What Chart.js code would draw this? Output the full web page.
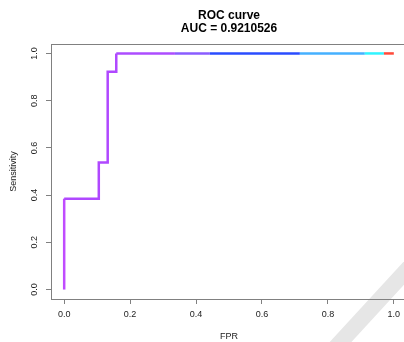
<!DOCTYPE html>
<html>
<head>
<meta charset="utf-8">
<script src="https://cdn.jsdelivr.net/npm/chart.js@4.4.0/dist/chart.umd.min.js"></script>
<style>
    html, body { margin: 0; padding: 0; background: #fff; overflow: hidden; }
    #wrap { position: relative; width: 404px; height: 342px; overflow: hidden; }
    #box { position: absolute; left: 0; top: 0; width: 410px; height: 342px; }
    #stripe {
        position: absolute; left: 362px; top: 190px; width: 16px; height: 240px;
        background: #e6e6e6; transform: rotate(42.6deg);
    }
</style>
</head>
<body>
<div id="wrap">
    <div id="stripe"></div>
    <div id="box"><canvas id="chartCanvasId"></canvas></div>
</div>
<script>
"use strict";

const fpr = [0, 0, 0.105, 0.105, 0.132, 0.132, 0.158, 0.158, 0.336, 0.442, 0.715, 0.912, 0.970, 1.0];
const tpr = [0, 0.385, 0.385, 0.538, 0.538, 0.923, 0.923, 1, 1, 1, 1, 1, 1, 1];
const segColors = [
    "#c04cff", "#b048ff", "#b048ff", "#b048ff", "#b048ff", "#b048ff", "#b048ff",
    "#ad4cff", "#8a5cff", "#2a4cff", "#45b0ff", "#30f4ff", "#ff4a3a"
];
const tickValues = [0, 0.2, 0.4, 0.6, 0.8, 1.0];
const titleLines = ["ROC curve", "AUC = 0.9210526"];

const points = fpr.map((x, i) => ({ x: x, y: tpr[i] }));

const boxPlugin = {
    id: "plotBox",
    beforeDatasetsDraw(chart) {
        const a = chart.chartArea;
        const ctx = chart.ctx;
        ctx.save();
        ctx.strokeStyle = "#808080";
        ctx.lineWidth = 1;
        ctx.strokeRect(a.left + 0.5, a.top + 0.5, a.right - a.left, a.bottom - a.top);
        ctx.restore();
    }
};

function axisOpts(title, isY) {
    return {
        type: "linear",
        min: -0.04,
        max: 1.04,
        afterBuildTicks(scale) {
            scale.ticks = tickValues.map(v => ({ value: v }));
        },
        afterFit(scale) {
            if (isY) scale.width = 51;
            else scale.height = 43;
        },
        grid: { drawOnChartArea: false, drawTicks: true, tickLength: 5, color: "#808080" },
        border: { display: true, color: "#808080" },
        ticks: {
            color: "#222",
            font: { family: "Liberation Sans, Arial", size: 9 },
            padding: isY ? 5 : 5,
            minRotation: isY ? 90 : 0,
            maxRotation: isY ? 90 : 0,
            crossAlign: isY ? "center" : "near",
            callback: v => Number(v).toFixed(1),
        },
        title: {
            display: true,
            text: title,
            color: "#222",
            font: { family: "Liberation Sans, Arial", size: 9 },
            padding: isY ? 8 : 0,
        },
    };
}

const chartCanvas = document.getElementById("chartCanvasId");
new Chart(chartCanvas.getContext("2d"), {
    type: "line",
    data: {
        datasets: [{
            data: points,
            borderWidth: 2.5,
            borderColor: segColors[0],
            pointRadius: 0,
            tension: 0,
            fill: false,
            segment: {
                borderColor: c => segColors[c.p0DataIndex],
            },
        }],
    },
    options: {
        responsive: true,
        maintainAspectRatio: false,
        animation: false,
        layout: { padding: { right: 3 } },
        plugins: {
            legend: { display: false },
            tooltip: { enabled: false },
            title: {
                display: true,
                fullSize: false,
                text: titleLines,
                color: "#000",
                font: { family: "Liberation Sans, Arial", size: 12, weight: "bold", lineHeight: 1.05 },
                padding: { top: 9.4, bottom: 9.4 },
            },
        },
        scales: {
            x: axisOpts("FPR", false),
            y: axisOpts("Sensitivity", true),
        },
    },
    plugins: [boxPlugin],
});
</script>
</body>
</html>
